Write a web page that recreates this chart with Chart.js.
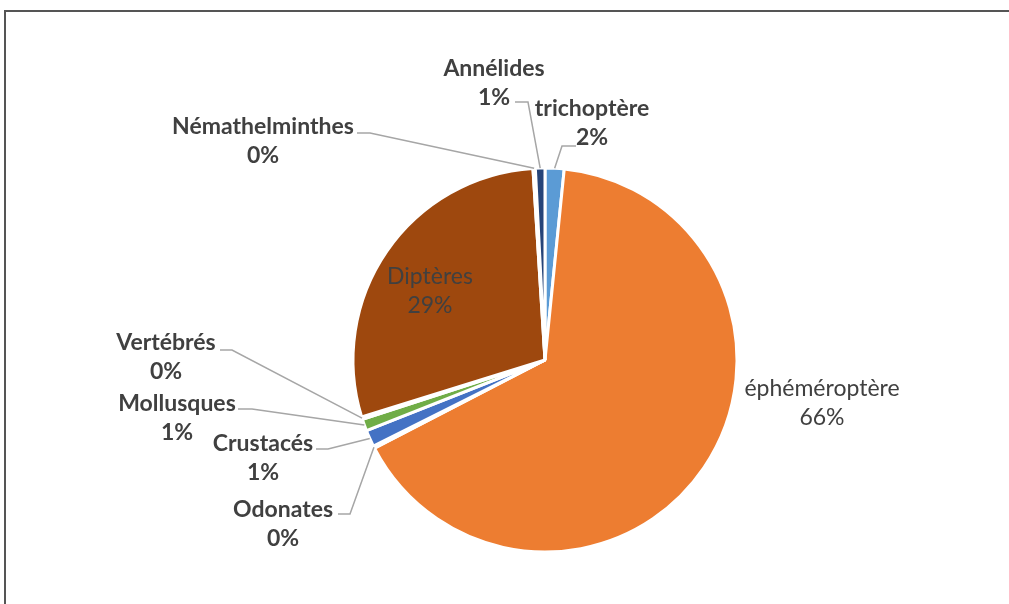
<!DOCTYPE html>
<html>
<head>
<meta charset="utf-8">
<script src="https://cdn.jsdelivr.net/npm/chart.js@4.4.1/dist/chart.umd.min.js"></script>
<style>
  html, body { margin: 0; padding: 0; background: #fff; overflow: hidden; }
  canvas { display: block; }
</style>
</head>
<body>
<canvas id="pie" width="1009" height="604"></canvas>
<script>
'use strict';

const categories = ['trichoptère', 'éphéméroptère', 'Odonates', 'Crustacés', 'Mollusques',
  'Vertébrés', 'Diptères', 'Némathelminthes', 'Annélides'];
const shares = [1.6, 65.8, 0.2, 1.4, 1.0, 0.2, 28.8, 0.2, 0.8];
const colors = ['#5B9BD5', '#ED7D31', '#A5A5A5', '#4472C4', '#70AD47',
  '#FFC000', '#9E480E', '#636363', '#264478'];

// label placement: centre of the name line, and leader start + elbow (null = no leader)
const labelLayout = [
  { x: 592, y: 109, bold: true, lead: [[576, 146], [562, 146]] },
  { x: 822, y: 389, bold: false, lead: null },
  { x: 283, y: 510, bold: true, lead: [[338, 514], [350, 514]] },
  { x: 263, y: 444, bold: true, lead: [[316, 449], [328, 449]] },
  { x: 177, y: 404, bold: true, lead: [[238, 409], [252, 409]] },
  { x: 166, y: 343, bold: true, lead: [[220, 350], [232, 350]] },
  { x: 430, y: 277, bold: false, lead: null },
  { x: 263, y: 127, bold: true, lead: [[357, 133], [370, 133]] },
  { x: 494, y: 69, bold: true, lead: [[515, 102], [528, 102]] },
];

const total = shares.reduce((a, b) => a + b, 0);

// chart frame: only the top and left edges fall inside the picture
const framePlugin = {
  id: 'frame',
  beforeDraw(chart) {
    const ctx = chart.ctx;
    ctx.save();
    ctx.strokeStyle = '#555';
    ctx.lineWidth = 2;
    ctx.beginPath();
    ctx.moveTo(5, chart.height);
    ctx.lineTo(5, 11);
    ctx.lineTo(chart.width, 11);
    ctx.stroke();
    ctx.restore();
  },
};

const labelPlugin = {
  id: 'pieLabels',
  afterDatasetsDraw(chart) {
    const ctx = chart.ctx;
    const arcs = chart.getDatasetMeta(0).data;
    ctx.save();
    arcs.forEach((arc, i) => {
      const lay = labelLayout[i];
      const p = arc.getProps(['x', 'y', 'startAngle', 'endAngle', 'outerRadius'], true);
      if (lay.lead) {
        const mid = (p.startAngle + p.endAngle) / 2;
        const ex = p.x + Math.cos(mid) * p.outerRadius;
        const ey = p.y + Math.sin(mid) * p.outerRadius;
        ctx.strokeStyle = '#A6A6A6';
        ctx.lineWidth = 1.5;
        ctx.beginPath();
        ctx.moveTo(lay.lead[0][0], lay.lead[0][1]);
        ctx.lineTo(lay.lead[1][0], lay.lead[1][1]);
        ctx.lineTo(ex, ey);
        ctx.stroke();
      }
      const pct = Math.round((shares[i] / total) * 100) + '%';
      ctx.fillStyle = '#404040';
      ctx.textAlign = 'center';
      ctx.textBaseline = 'middle';
      ctx.font = (lay.bold ? 'bold ' : '') + '23px Lato, "Open Sans", sans-serif';
      ctx.fillText(categories[i], lay.x, lay.y);
      ctx.fillText(pct, lay.x, lay.y + 29);
    });
    ctx.restore();
  },
};

new Chart(document.getElementById('pie'), {
  type: 'pie',
  data: {
    labels: categories,
    datasets: [
      {
        data: shares,
        backgroundColor: colors,
        borderColor: '#ffffff',
        borderWidth: 3,
        radius: 192,
      },
    ],
  },
  options: {
    responsive: false,
    animation: false,
    events: [],
    layout: { padding: { left: 200, right: 119, top: 168, bottom: 52 } },
    plugins: {
      legend: { display: false },
      tooltip: { enabled: false },
    },
  },
  plugins: [framePlugin, labelPlugin],
});
</script>
</body>
</html>
